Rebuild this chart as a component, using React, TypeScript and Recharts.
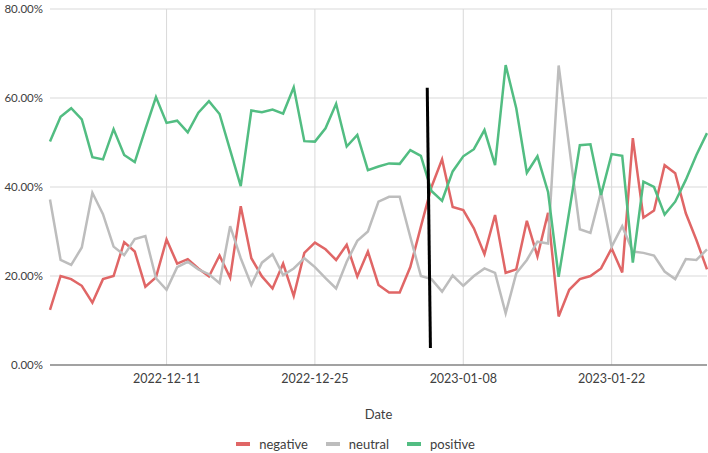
import { LineChart, Line, XAxis, YAxis, CartesianGrid, Legend, ReferenceLine } from "recharts";

const dates = [
  "2022-11-30", "2022-12-01", "2022-12-02", "2022-12-03", "2022-12-04", "2022-12-05", "2022-12-06",
  "2022-12-07", "2022-12-08", "2022-12-09", "2022-12-10", "2022-12-11", "2022-12-12", "2022-12-13",
  "2022-12-14", "2022-12-15", "2022-12-16", "2022-12-17", "2022-12-18", "2022-12-19", "2022-12-20",
  "2022-12-21", "2022-12-22", "2022-12-23", "2022-12-24", "2022-12-25", "2022-12-26", "2022-12-27",
  "2022-12-28", "2022-12-29", "2022-12-30", "2022-12-31", "2023-01-01", "2023-01-02", "2023-01-03",
  "2023-01-04", "2023-01-05", "2023-01-06", "2023-01-07", "2023-01-08", "2023-01-09", "2023-01-10",
  "2023-01-11", "2023-01-12", "2023-01-13", "2023-01-14", "2023-01-15", "2023-01-16", "2023-01-17",
  "2023-01-18", "2023-01-19", "2023-01-20", "2023-01-21", "2023-01-22", "2023-01-23", "2023-01-24",
  "2023-01-25", "2023-01-26", "2023-01-27", "2023-01-28", "2023-01-29", "2023-01-30", "2023-01-31",
];

const negative = [
  12.4, 20.0, 19.3, 17.8, 14.0, 19.3, 20.0, 27.6, 25.5, 17.6,
  19.7, 28.2, 22.8, 23.8, 21.7, 19.9, 24.6, 19.6, 35.7, 24.0,
  19.9, 17.2, 22.8, 15.5, 25.2, 27.5, 26.0, 23.6, 27.0, 19.9,
  25.5, 18.0, 16.3, 16.3, 22.0, 31.1, 40.0, 46.2, 35.5, 34.8,
  30.7, 24.9, 33.7, 20.7, 21.5, 32.4, 24.4, 34.2, 10.9, 16.9,
  19.3, 20.0, 21.7, 26.2, 20.8, 51.0, 33.1, 34.7, 44.9, 43.1,
  34.1, 28.1, 21.5,
];

const neutral = [
  37.2, 23.6, 22.5, 26.4, 38.7, 33.9, 26.6, 24.7, 28.3, 29.0,
  19.5, 16.9, 22.0, 23.2, 21.5, 20.4, 18.4, 31.2, 24.0, 18.0,
  23.0, 24.9, 20.2, 21.7, 24.0, 22.0, 19.5, 17.2, 23.2, 27.9,
  30.0, 36.7, 37.8, 37.8, 28.8, 20.0, 19.3, 16.5, 20.1, 17.8,
  20.0, 21.7, 20.7, 11.6, 20.6, 23.6, 27.7, 27.3, 67.3, 49.0,
  30.5, 29.7, 38.9, 26.6, 31.2, 25.5, 25.2, 24.6, 21.0, 19.3,
  23.8, 23.6, 26.0,
];

const positive = [
  50.2, 55.8, 57.7, 55.2, 46.7, 46.2, 53.0, 47.2, 45.6, 53.0,
  60.2, 54.4, 54.9, 52.3, 56.7, 59.3, 56.4, 48.3, 40.2, 57.2,
  56.8, 57.4, 56.5, 62.4, 50.3, 50.2, 53.2, 58.7, 49.1, 51.7,
  43.8, 44.6, 45.3, 45.2, 48.3, 47.0, 39.1, 36.9, 43.5, 46.9,
  48.5, 52.8, 44.9, 67.4, 57.7, 43.2, 46.9, 38.9, 19.8, 34.5,
  49.4, 49.6, 38.2, 47.4, 47.0, 23.0, 41.2, 40.0, 33.8, 36.7,
  41.6, 47.2, 52.1,
];

const xTicks = [11, 25, 39, 53];
const yTicks = [0, 20, 40, 60, 80];

const SERIES = [
  { key: "negative", color: "#e06666" },
  { key: "neutral", color: "#bdbdbd" },
  { key: "positive", color: "#52bd82" },
];

const FONT = "Lato, 'Open Sans', sans-serif";

const data = dates.map((date, i) => ({
  t: i,
  date,
  negative: negative[i],
  neutral: neutral[i],
  positive: positive[i],
}));

const LegendContent = () => (
  <div
    style={{
      display: "flex",
      justifyContent: "center",
      alignItems: "center",
      gap: 18,
      fontFamily: FONT,
      fontSize: 13,
      color: "#404040",
      height: 28,
      paddingLeft: 4,
      marginTop: 5,
    }}
  >
    {SERIES.map((s) => (
      <div key={s.key} style={{ display: "flex", alignItems: "center", gap: 9 }}>
        <span style={{ display: "inline-block", width: 14, height: 4, background: s.color }} />
        <span>{s.key}</span>
      </div>
    ))}
  </div>
);

export default function App() {
  return (
    <div style={{ position: "absolute", left: 0, top: 0, background: "#fff" }}>
      <LineChart
        width={708}
        height={453}
        data={data}
        margin={{ top: 9, right: 1, bottom: 0, left: 0 }}
        style={{ fontFamily: FONT }}
      >
        <CartesianGrid stroke="#d9d9d9" strokeWidth={1} verticalValues={xTicks} />
        <XAxis
          dataKey="t"
          type="number"
          domain={[0, 62]}
          ticks={xTicks}
          tickFormatter={(i: number) => dates[i]}
          tick={{ fill: "#404040", fontSize: 12.5 }}
          tickLine={false}
          tickSize={0}
          tickMargin={9}
          axisLine={{ stroke: "#595959", strokeWidth: 1 }}
          height={60}
          label={{ value: "Date", position: "insideBottom", offset: 6, fill: "#404040", fontSize: 13 }}
        />
        <YAxis
          domain={[0, 80]}
          ticks={yTicks}
          tickFormatter={(v: number) => `${v.toFixed(2)}%`}
          tick={{ fill: "#404040", fontSize: 11.5 }}
          tickLine={false}
          tickSize={0}
          tickMargin={7}
          axisLine={false}
          width={50}
        />
        <Legend verticalAlign="bottom" height={28} content={<LegendContent />} />
        {SERIES.map((s) => (
          <Line
            key={s.key}
            type="linear"
            dataKey={s.key}
            stroke={s.color}
            strokeWidth={2.5}
            dot={false}
            activeDot={false}
            isAnimationActive={false}
          />
        ))}
        <ReferenceLine
          segment={[
            { x: 35.6, y: 62.3 },
            { x: 35.9, y: 3.8 },
          ]}
          stroke="#000"
          strokeWidth={3}
        />
      </LineChart>
    </div>
  );
}
